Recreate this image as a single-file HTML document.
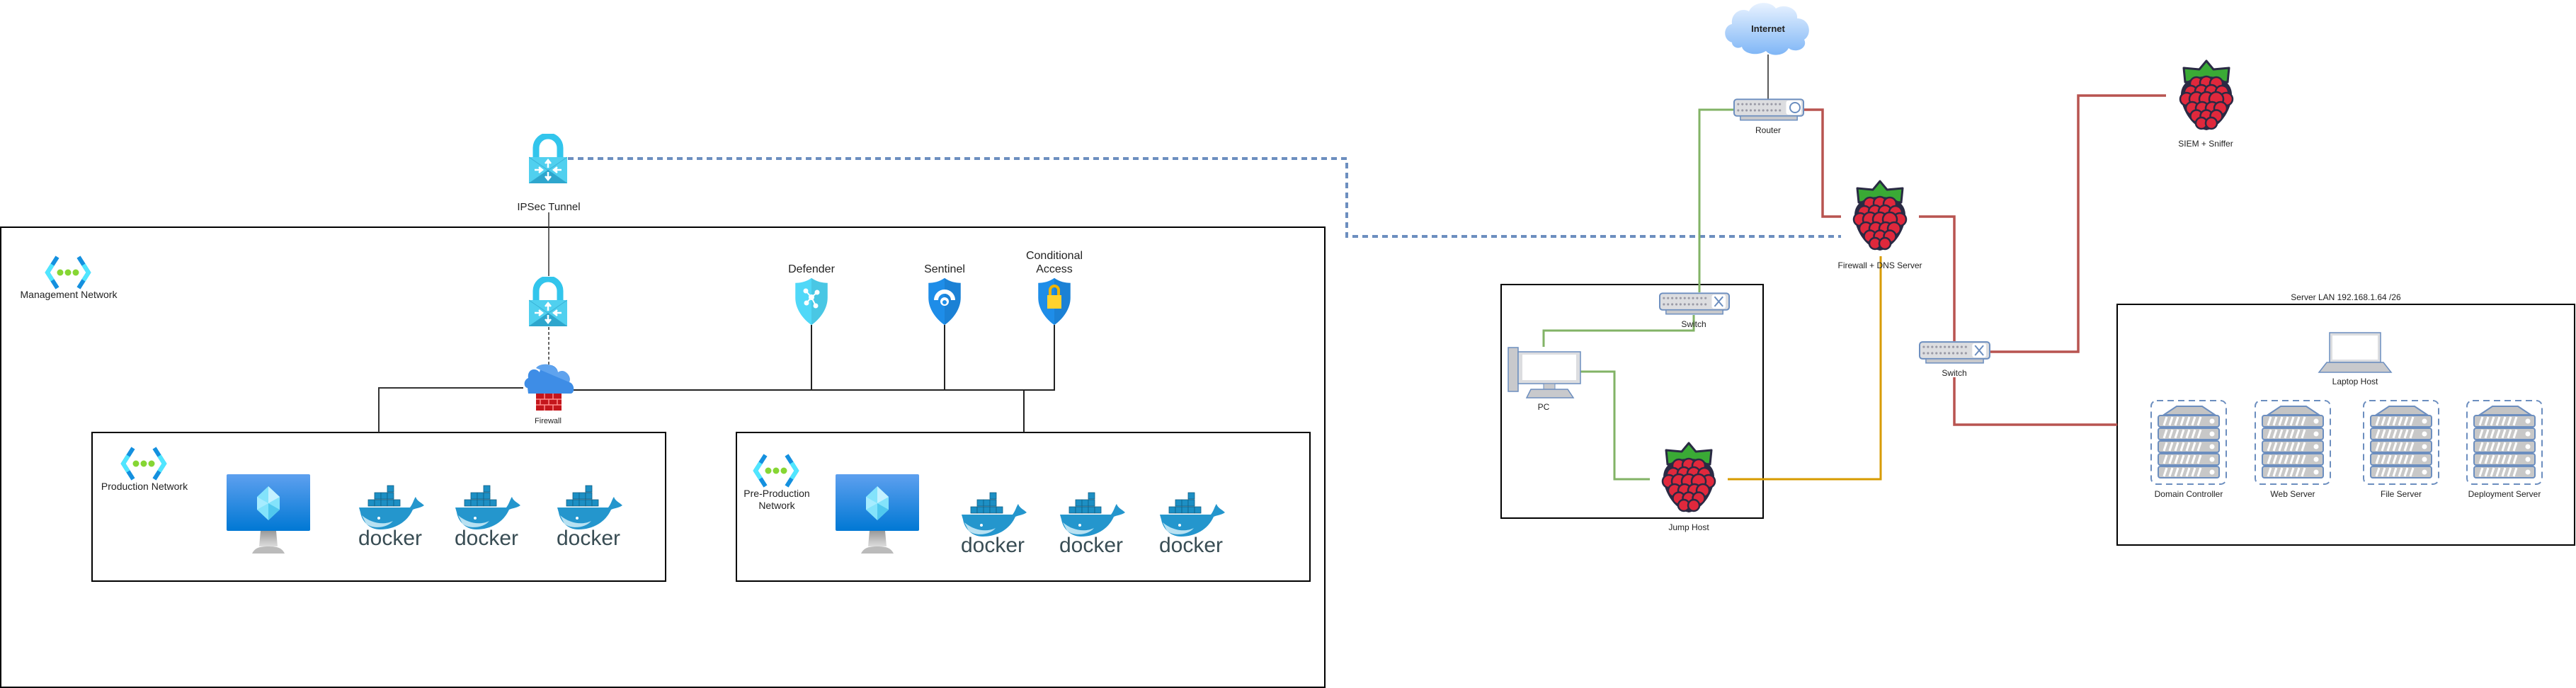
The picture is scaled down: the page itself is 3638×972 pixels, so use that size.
<!DOCTYPE html>
<html><head><meta charset="utf-8"><style>
html,body{margin:0;padding:0;background:#fff;}
svg{display:block;}
text{font-family:"Liberation Sans",sans-serif;fill:#222;}
</style></head><body>
<svg width="3638" height="972" viewBox="0 0 3638 972" xmlns="http://www.w3.org/2000/svg">
<defs>
<symbol id="rasp" viewBox="0 0 80 104">
<path d="M40 2 L30 14 L8 12 L10 32 L40 30 L70 32 L72 12 L50 14 Z" fill="#3aaa35" stroke="#2a2a44" stroke-width="3" stroke-linejoin="round"/>
<path d="M40 100 C20 96 4 70 4 50 C4 32 20 24 40 24 C60 24 76 32 76 50 C76 70 60 96 40 100Z" fill="#2a2a44"/>
<g fill="#e0283c" stroke="#2a2a44" stroke-width="2.5">
<circle cx="26" cy="34" r="9"/><circle cx="40" cy="33" r="9"/><circle cx="54" cy="34" r="9"/>
<circle cx="18" cy="46" r="9"/><circle cx="33" cy="45" r="9"/><circle cx="47" cy="45" r="9"/><circle cx="62" cy="46" r="9"/>
<circle cx="12" cy="56" r="9"/><circle cx="68" cy="56" r="9"/>
<circle cx="26" cy="56" r="10"/><circle cx="40" cy="56" r="10"/><circle cx="54" cy="56" r="10"/>
<circle cx="20" cy="69" r="9"/><circle cx="34" cy="69" r="9"/><circle cx="48" cy="69" r="9"/><circle cx="60" cy="69" r="9"/>
<circle cx="26" cy="80" r="8.5"/><circle cx="40" cy="80" r="8.5"/><circle cx="54" cy="80" r="8.5"/>
<circle cx="33" cy="90" r="8"/><circle cx="47" cy="90" r="8"/>
</g>
</symbol>
<symbol id="docker" viewBox="0 0 104 88">
<g fill="#1d8fc4" stroke="#0e5f86" stroke-width="0.8">
<rect x="48" y="2" width="9" height="9"/>
<rect x="30" y="12" width="9" height="9"/><rect x="39" y="12" width="9" height="9"/><rect x="48" y="12" width="9" height="9"/>
<rect x="21" y="22" width="9" height="9"/><rect x="30" y="22" width="9" height="9"/><rect x="39" y="22" width="9" height="9"/><rect x="48" y="22" width="9" height="9"/><rect x="57" y="22" width="9" height="9"/>
</g>
<path d="M8 33 L80 33 C84 28 86 20 88 18 C90 24 96 26 100 30 C94 34 88 34 84 36 C76 54 58 64 38 64 C22 64 12 52 10 40Z" fill="#2496cd"/>
<path d="M12 44 C26 56 44 58 56 52 C48 62 28 64 18 56Z" fill="#b8e1f2"/>
<circle cx="36" cy="48" r="2" fill="#fff"/>
<text x="52" y="86" text-anchor="middle" font-size="30" style="fill:#394d54;font-family:'Liberation Sans',sans-serif">docker</text>
</symbol>
<symbol id="server" viewBox="0 0 110 122">
<rect x="2" y="2" width="106" height="118" rx="8" fill="none" stroke="#6c8ebf" stroke-width="2" stroke-dasharray="9 6"/>
<path d="M20 22 L38 10 L74 10 L92 22Z" fill="#c4c4c4" stroke="#6c8ebf" stroke-width="2"/>
<g fill="#c8c8c8" stroke="#6c8ebf" stroke-width="2">
<rect x="12" y="23" width="86" height="16" rx="3"/><rect x="12" y="41" width="86" height="16" rx="3"/><rect x="12" y="59" width="86" height="16" rx="3"/><rect x="12" y="77" width="86" height="16" rx="3"/><rect x="12" y="95" width="86" height="16" rx="3"/>
</g>
<g fill="#fff"><circle cx="88" cy="31" r="3.5"/><circle cx="88" cy="49" r="3.5"/><circle cx="88" cy="67" r="3.5"/><circle cx="88" cy="85" r="3.5"/><circle cx="88" cy="103" r="3.5"/></g>
<g stroke="#fff" stroke-width="3">
<path d="M20 37 l4 -12 M28 37 l4 -12 M36 37 l4 -12 M44 37 l4 -12 M52 37 l4 -12 M60 37 l4 -12 M68 37 l4 -12"/>
<path d="M20 55 l4 -12 M28 55 l4 -12 M36 55 l4 -12 M44 55 l4 -12 M52 55 l4 -12 M60 55 l4 -12 M68 55 l4 -12"/>
<path d="M20 73 l4 -12 M28 73 l4 -12 M36 73 l4 -12 M44 73 l4 -12 M52 73 l4 -12 M60 73 l4 -12 M68 73 l4 -12"/>
<path d="M20 91 l4 -12 M28 91 l4 -12 M36 91 l4 -12 M44 91 l4 -12 M52 91 l4 -12 M60 91 l4 -12 M68 91 l4 -12"/>
<path d="M20 109 l4 -12 M28 109 l4 -12 M36 109 l4 -12 M44 109 l4 -12 M52 109 l4 -12 M60 109 l4 -12 M68 109 l4 -12"/>
</g>
</symbol>
<symbol id="lock" viewBox="0 0 54 70">
<path d="M10 35 V20 A17 17 0 0 1 44 20 V35" fill="none" stroke="#32c5ec" stroke-width="9"/>
<rect x="0" y="33" width="54" height="37" fill="#50d0ef"/>
<path d="M0 33 L54 70 M54 33 L0 70" stroke="#3ab4d8" stroke-width="1"/>
<path d="M0 70 L27 51 L54 70Z" fill="#2ea6cd"/>
<g stroke="#fff" stroke-width="2.5" fill="#fff">
<path d="M27 38 V48 M23 42 L27 37 L31 42"/><path d="M27 54 V64 M23 60 L27 65 L31 60"/>
<path d="M8 51 H18 M14 47 L19 51 L14 55"/><path d="M46 51 H36 M40 47 L35 51 L40 55"/>
</g>
</symbol>
<symbol id="vnet" viewBox="0 0 66 48">
<path d="M18 2 L4 24 L18 46" fill="none" stroke="#1490df" stroke-width="6"/>
<path d="M48 2 L62 24 L48 46" fill="none" stroke="#1490df" stroke-width="6"/>
<path d="M11 13 L4 24 L11 35" fill="none" stroke="#50e6ff" stroke-width="6"/>
<path d="M55 13 L62 24 L55 35" fill="none" stroke="#50e6ff" stroke-width="6"/>
<circle cx="22" cy="24" r="4.5" fill="#86d633"/><circle cx="33" cy="24" r="4.5" fill="#86d633"/><circle cx="44" cy="24" r="4.5" fill="#86d633"/>
</symbol>
<symbol id="vm" viewBox="0 0 118 112">
<defs><linearGradient id="vg" x1="0" y1="0" x2="0" y2="1"><stop offset="0" stop-color="#5ea0ef"/><stop offset="1" stop-color="#0078d4"/></linearGradient>
<linearGradient id="sg" x1="0" y1="0" x2="0" y2="1"><stop offset="0" stop-color="#999"/><stop offset="1" stop-color="#ddd"/></linearGradient></defs>
<rect x="0" y="0" width="118" height="80" rx="2" fill="url(#vg)"/>
<path d="M48 80 H70 L72 102 H46Z" fill="url(#sg)"/>
<path d="M36 112 C40 104 46 102 59 102 C72 102 78 104 82 112Z" fill="#bbb"/>
<path d="M59 17 L75 32 L75 50 L59 65 L43 50 L43 32Z" fill="#83e3fb"/>
<path d="M59 17 L75 32 L59 41Z" fill="#c3f1ff"/><path d="M59 41 L75 50 L59 65Z" fill="#50c8ee"/><path d="M43 32 L59 41 L43 50Z" fill="#a6ecff"/>
</symbol>
<symbol id="sw" viewBox="0 0 102 32">
<rect x="1" y="1" width="100" height="24" rx="4" fill="#dcdde0" stroke="#6c8ebf" stroke-width="2"/>
<rect x="10" y="25" width="82" height="6" fill="#c8c9cc" stroke="#6c8ebf" stroke-width="1.5"/>
<g fill="#9a9aa6">
<circle cx="7" cy="8" r="1.6"/><circle cx="13" cy="8" r="1.6"/><circle cx="19" cy="8" r="1.6"/><circle cx="25" cy="8" r="1.6"/><circle cx="31" cy="8" r="1.6"/><circle cx="37" cy="8" r="1.6"/><circle cx="43" cy="8" r="1.6"/><circle cx="49" cy="8" r="1.6"/><circle cx="55" cy="8" r="1.6"/><circle cx="61" cy="8" r="1.6"/><circle cx="67" cy="8" r="1.6"/>
<circle cx="7" cy="17" r="1.6"/><circle cx="13" cy="17" r="1.6"/><circle cx="19" cy="17" r="1.6"/><circle cx="25" cy="17" r="1.6"/><circle cx="31" cy="17" r="1.6"/><circle cx="37" cy="17" r="1.6"/><circle cx="43" cy="17" r="1.6"/><circle cx="49" cy="17" r="1.6"/><circle cx="55" cy="17" r="1.6"/><circle cx="61" cy="17" r="1.6"/><circle cx="67" cy="17" r="1.6"/>
</g>
<rect x="76" y="3" width="20" height="20" rx="3" fill="#fff"/>
<path d="M80 6 L92 20 M92 6 L80 20" stroke="#6c8ebf" stroke-width="2"/>
</symbol>
<symbol id="shield" viewBox="0 0 56 80">
<path d="M28 2 C36 8 46 10 54 10 V34 C54 52 42 68 28 78 C14 68 2 52 2 34 V10 C10 10 20 8 28 2Z" fill="currentColor"/>
<path d="M28 2 C36 8 46 10 54 10 V34 C54 52 42 68 28 78Z" fill="#000" opacity="0.08"/>
</symbol>
</defs>

<!-- Management network box -->
<rect x="1" y="321" width="1870" height="650" fill="none" stroke="#000" stroke-width="2"/>
<rect x="130" y="611" width="810" height="210" fill="none" stroke="#000" stroke-width="2"/>
<rect x="1040" y="611" width="810" height="210" fill="none" stroke="#000" stroke-width="2"/>

<!-- dashed tunnel line -->
<path d="M802 224 H1902 V334 H2600" fill="none" stroke="#6c8ebf" stroke-width="4" stroke-dasharray="8 6"/>

<!-- left connectors -->
<path d="M775 300 V390" stroke="#333" stroke-width="1.5"/>
<path d="M775 462 V518" stroke="#333" stroke-width="1.5" stroke-dasharray="4 3"/>
<path d="M739 548 H535 V611" fill="none" stroke="#333" stroke-width="2"/>
<path d="M809 551 H1489 V459 M1146 551 V459 M1334 551 V459 M1446 551 V611" fill="none" stroke="#222" stroke-width="2"/>

<!-- left icons -->
<use href="#lock" x="747" y="189" width="54" height="70"/>
<text x="775" y="297" text-anchor="middle" font-size="15">IPSec Tunnel</text>
<use href="#lock" x="747" y="391" width="54" height="70"/>
<path d="M745 548 C740 548 738 538 746 534 C744 522 756 518 762 526 C764 512 786 512 788 526 C796 520 808 530 804 540 C812 542 812 556 806 556 H746Z" fill="#3e8de6"/>
<path d="M757 520 C762 512 784 512 788 526 C796 520 806 528 804 540" fill="#5fa3ee"/>
<rect x="757" y="556" width="36" height="24" fill="#c4161c"/>
<g stroke="#ff8a8a" stroke-width="1.5"><path d="M757 564 H793 M757 572 H793 M769 556 V564 M781 556 V564 M763 564 V572 M775 564 V572 M787 564 V572 M769 572 V580 M781 572 V580"/></g>
<text x="774" y="598" text-anchor="middle" font-size="11">Firewall</text>

<use href="#vnet" x="63" y="361" width="66" height="48"/>
<text x="97" y="421" text-anchor="middle" font-size="14">Management Network</text>

<text x="1146" y="385" text-anchor="middle" font-size="16">Defender</text>
<text x="1334" y="385" text-anchor="middle" font-size="16">Sentinel</text>
<text x="1489" y="366" text-anchor="middle" font-size="16">Conditional</text>
<text x="1489" y="385" text-anchor="middle" font-size="16">Access</text>
<use href="#shield" x="1118" y="391" width="56" height="70" style="color:#50d8f8"/>
<g stroke="#fff" stroke-width="2" fill="#fff"><circle cx="1146" cy="420" r="3"/><circle cx="1138" cy="411" r="2.5"/><circle cx="1154" cy="413" r="2.5"/><circle cx="1152" cy="432" r="2.5"/><circle cx="1139" cy="428" r="2.5"/><path d="M1146 420 L1138 411 M1146 420 L1154 413 M1146 420 L1152 432 M1146 420 L1139 428" /></g>
<use href="#shield" x="1306" y="391" width="56" height="70" style="color:#1e8de8"/>
<path d="M1322 424 A12 12 0 0 1 1346 424" fill="none" stroke="#fff" stroke-width="6"/>
<circle cx="1334" cy="426" r="6" fill="#fff"/><circle cx="1334" cy="427" r="3" fill="#1e8de8"/>
<use href="#shield" x="1461" y="391" width="56" height="70" style="color:#1e8de8"/>
<path d="M1483 418 V410 A6 6 0 0 1 1495 410 V418" fill="none" stroke="#f0b400" stroke-width="4"/>
<rect x="1479" y="417" width="20" height="19" fill="#ffd22e"/>

<use href="#vnet" x="170" y="631" width="66" height="48"/>
<text x="204" y="692" text-anchor="middle" font-size="14">Production Network</text>
<use href="#vm" x="320" y="670" width="118" height="112"/>
<use href="#docker" x="499" y="684" width="104" height="88"/>
<use href="#docker" x="635" y="684" width="104" height="88"/>
<use href="#docker" x="779" y="684" width="104" height="88"/>

<use href="#vnet" x="1063" y="641" width="66" height="48"/>
<text x="1097" y="702" text-anchor="middle" font-size="14">Pre-Production</text>
<text x="1097" y="719" text-anchor="middle" font-size="14">Network</text>
<use href="#vm" x="1180" y="670" width="118" height="112"/>
<use href="#docker" x="1350" y="694" width="104" height="88"/>
<use href="#docker" x="1489" y="694" width="104" height="88"/>
<use href="#docker" x="1630" y="694" width="104" height="88"/>

<!-- RIGHT SIDE -->
<rect x="2120" y="402" width="370" height="330" fill="none" stroke="#000" stroke-width="2"/>
<rect x="2990" y="430" width="646" height="340" fill="none" stroke="#000" stroke-width="2"/>

<!-- connectors -->
<path d="M2497 77 V140" stroke="#222" stroke-width="1.5"/>
<path d="M2448 155 H2400 V413" fill="none" stroke="#82b366" stroke-width="3"/>
<path d="M2548 155 H2574 V306 H2600" fill="none" stroke="#b85450" stroke-width="3.5"/>
<path d="M2710 306 H2760 V482" fill="none" stroke="#b85450" stroke-width="3.5"/>
<path d="M2811 497 H2935 V135 H3059" fill="none" stroke="#b85450" stroke-width="3.5"/>
<path d="M2760 533 V600 H2990" fill="none" stroke="#b85450" stroke-width="3.5"/>
<path d="M2392 445 V467 H2180 V490" fill="none" stroke="#82b366" stroke-width="3"/>
<path d="M2232 525 H2280 V677 H2330" fill="none" stroke="#82b366" stroke-width="3"/>
<path d="M2440 677 H2656 V362" fill="none" stroke="#d79b00" stroke-width="3"/>

<!-- cloud -->
<defs><linearGradient id="cg" x1="0" y1="0" x2="0" y2="1"><stop offset="0" stop-color="#e8f2ff"/><stop offset="1" stop-color="#7fb6f6"/></linearGradient></defs>
<path d="M2446 60 C2432 56 2434 36 2446 34 C2444 18 2460 10 2470 16 C2476 2 2500 0 2508 12 C2520 4 2540 12 2538 26 C2556 26 2560 48 2548 56 C2554 68 2536 76 2526 68 C2520 80 2500 80 2494 72 C2482 80 2462 76 2460 66 C2454 70 2446 66 2446 60Z" fill="url(#cg)"/>
<text x="2497" y="45" text-anchor="middle" font-size="13" font-weight="bold">Internet</text>

<use href="#sw" x="2448" y="139" width="100" height="32"/>
<rect x="2526" y="142" width="18" height="20" rx="3" fill="#fff"/>
<circle cx="2535" cy="152" r="7" fill="none" stroke="#6c8ebf" stroke-width="2"/>
<text x="2497" y="188" text-anchor="middle" font-size="12">Router</text>

<use href="#rasp" x="2615" y="254" width="80" height="104"/>
<text x="2655" y="379" text-anchor="middle" font-size="12">Firewall + DNS Server</text>

<use href="#rasp" x="3076" y="84" width="80" height="104"/>
<text x="3115" y="207" text-anchor="middle" font-size="12">SIEM + Sniffer</text>

<use href="#sw" x="2710" y="482" width="101" height="32"/>
<text x="2760" y="531" text-anchor="middle" font-size="12">Switch</text>

<use href="#sw" x="2343" y="413" width="100" height="32"/>
<text x="2392" y="462" text-anchor="middle" font-size="12">Switch</text>

<!-- PC -->
<rect x="2130" y="491" width="14" height="62" fill="#c8c9cc" stroke="#6c8ebf" stroke-width="1.5"/>
<rect x="2144" y="497" width="88" height="45" fill="#dcdde0" stroke="#6c8ebf" stroke-width="1.5"/>
<rect x="2150" y="501" width="76" height="36" fill="#fff"/>
<rect x="2180" y="542" width="16" height="8" fill="#c8c9cc" stroke="#6c8ebf"/>
<path d="M2162 550 H2214 L2222 562 H2156Z" fill="#c8c9cc" stroke="#6c8ebf" stroke-width="1.5"/>
<text x="2180" y="579" text-anchor="middle" font-size="12">PC</text>

<use href="#rasp" x="2345" y="624" width="80" height="104"/>
<text x="2385" y="749" text-anchor="middle" font-size="12">Jump Host</text>

<text x="3313" y="424" text-anchor="middle" font-size="12">Server LAN 192.168.1.64 /26</text>
<!-- laptop -->
<rect x="3290" y="470" width="72" height="42" fill="#dcdde0" stroke="#6c8ebf" stroke-width="1.5"/>
<rect x="3294" y="474" width="64" height="34" fill="#fff"/>
<path d="M3286 512 H3366 L3377 526 H3275Z" fill="#c8c9cc" stroke="#6c8ebf" stroke-width="1.5"/>
<text x="3326" y="543" text-anchor="middle" font-size="12">Laptop Host</text>

<use href="#server" x="3036" y="564" width="110" height="122"/>
<use href="#server" x="3183" y="564" width="110" height="122"/>
<use href="#server" x="3336" y="564" width="110" height="122"/>
<use href="#server" x="3482" y="564" width="110" height="122"/>
<text x="3091" y="702" text-anchor="middle" font-size="12">Domain Controller</text>
<text x="3238" y="702" text-anchor="middle" font-size="12">Web Server</text>
<text x="3391" y="702" text-anchor="middle" font-size="12">File Server</text>
<text x="3537" y="702" text-anchor="middle" font-size="12">Deployment Server</text>
</svg>
</body></html>
